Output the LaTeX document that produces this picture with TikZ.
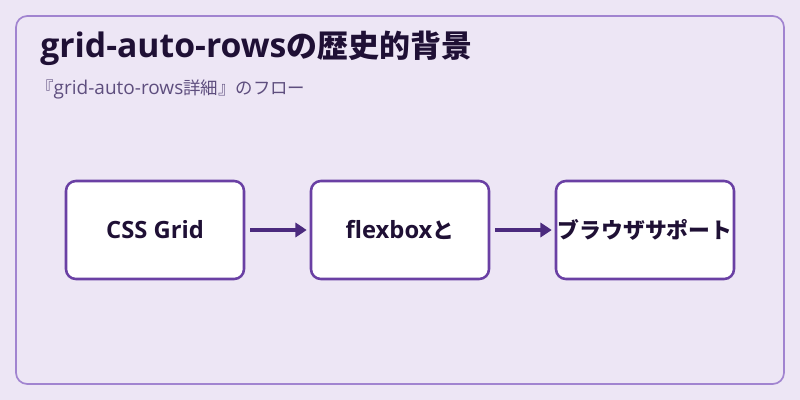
\documentclass[tikz,border=0pt]{standalone}
\usepackage{fontspec}
\setmainfont{Noto Sans CJK JP}
\newfontfamily\latinfont{Open Sans}[Scale=1.09]
\usetikzlibrary{arrows.meta}
\definecolor{bgpurple}{HTML}{EDE6F5}
\definecolor{framepurple}{HTML}{A184D0}
\definecolor{boxpurple}{HTML}{6A40A4}
\definecolor{arrowpurple}{HTML}{4B2A7E}
\definecolor{inkpurple}{HTML}{1F1035}
\definecolor{subpurple}{HTML}{5E4E7E}

\begin{document}
\begin{tikzpicture}[x=0.025cm, y=-0.025cm,
	stagebox/.style={draw=boxpurple, line width=1.8pt, fill=white, rounded corners=7pt,
		minimum width=178*0.025cm, minimum height=98*0.025cm, inner sep=0pt,
		text=inkpurple, font=\fontsize{15.5pt}{18pt}\selectfont\bfseries},
	flowarrow/.style={draw=arrowpurple, line width=2.2pt, -{Triangle[length=8pt, width=10pt]}}]
	% Background and frame
	\fill[bgpurple] (0,0) rectangle (800,400);
	\draw[framepurple, line width=1.2pt, rounded corners=8pt] (16,16) rectangle (784,384);
	% Title and subtitle
	\node[anchor=base west, inner sep=0pt, text=inkpurple, font=\fontsize{22pt}{24pt}\selectfont\bfseries]
		(title) at (40,58) {{\latinfont grid-auto-rows}の歴史的背景};
	\node[anchor=base west, inner sep=0pt, text=subpurple, font=\fontsize{12.4pt}{14pt}\selectfont]
		(subtitle) at (36,95) {『{\latinfont grid-auto-rows}詳細』のフロー};
	% Stages
	\foreach \name/\x/\lbl in {css/155/{\latinfont CSS Grid}, flex/400/{\latinfont flexbox}と, support/645/ブラウザサポート}{
		\node[stagebox] (\name) at (\x,230) {\lbl};
	}
	% Arrows
	\draw[flowarrow] ([xshift=5*0.025cm]css.east) -- ([xshift=-3*0.025cm]flex.west);
	\draw[flowarrow] ([xshift=5*0.025cm]flex.east) -- ([xshift=-3*0.025cm]support.west);
\end{tikzpicture}
\end{document}
